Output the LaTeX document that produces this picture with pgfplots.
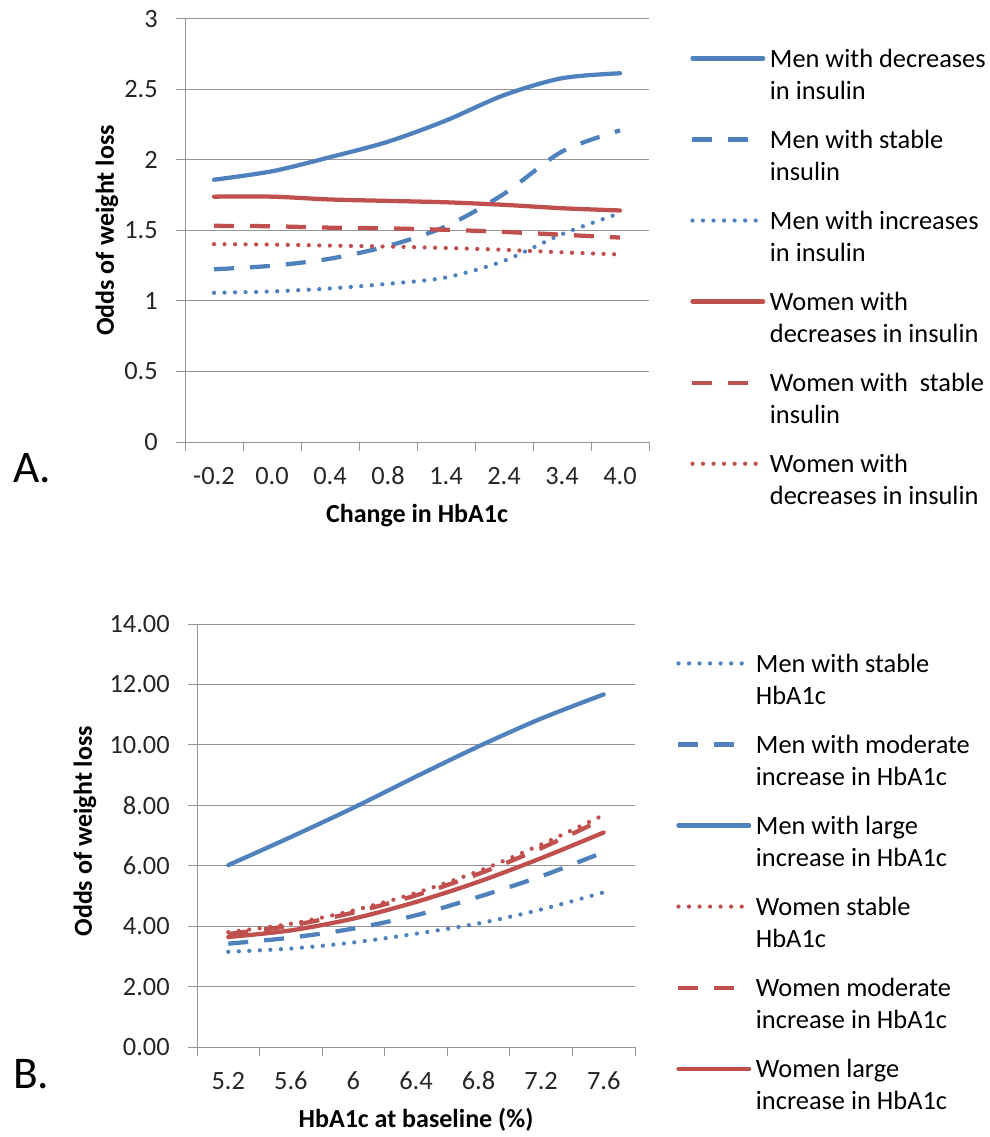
\documentclass[border=0pt]{standalone}
\usepackage{fontspec}
\setmainfont{Carlito}
\usepackage{pgfplots}
\pgfplotsset{compat=1.18}
\definecolor{xblue}{HTML}{4F81BD}
\definecolor{xred}{HTML}{C0504D}
\definecolor{gridgray}{HTML}{969696}
\definecolor{txt}{HTML}{262626}
\newcommand\two[2]{\begin{tabular}[t]{@{}l@{}}#1\\#2\end{tabular}}
\pgfplotsset{
 excel/.style={
  scale only axis,
  anchor=north west,
  axis x line*=bottom, axis y line*=left,
  axis line style={-, draw=gridgray, line width=0.75pt},
  ymajorgrids, grid style={draw=gridgray, line width=0.75pt},
  tick align=outside, major tick length=6.75pt,
  tick style={draw=gridgray, line width=0.75pt},
  xtick style={draw=none},
  extra x tick style={grid=none, xtick style={draw=gridgray, line width=0.75pt}},
  extra x tick labels={},
  tick label style={font=\fontsize{19.8}{24}\selectfont, text=txt},
  xticklabel style={anchor=base, yshift=-25pt},
  yticklabel style={inner sep=0pt, xshift=-13.5pt},
  /pgf/number format/assume math mode=true,
  label style={font=\bfseries\fontsize{19.5}{24}\selectfont, text=black},
  xlabel style={at={(axis description cs:0.5,0)}, anchor=base, yshift=-60pt},
  legend style={at={(axis description cs:1,1)}, anchor=north west, xshift=31pt, yshift=-19.5pt,
    draw=none, fill=none, inner sep=0pt, outer sep=0pt, row sep=42.5pt, column sep=3.5pt,
    font=\fontsize{19.8}{24}\selectfont, text=black, nodes={inner sep=0pt}},
  legend cell align=left,
  legend style={cells={anchor=base west}},
  legend image code/.code={\draw[##1] (0pt,6.75pt) -- (53pt,6.75pt);},
 },
 sol/.style={line width=3.2pt, line cap=round, line join=round, smooth},
 dsh/.style={line width=3.2pt, line cap=butt, line join=round, dash pattern=on 15pt off 12pt, smooth},
 dot/.style={line width=3.2pt, line cap=round, line join=round, dash pattern=on 0pt off 7.9pt, smooth},
}
\begin{document}
\begin{tikzpicture}
\path[use as bounding box] (0,0) rectangle (741.75pt,-852.75pt);
% ---------------- Panel A ----------------
\begin{axis}[excel,
  at={(138.75pt,-14.25pt)}, width=348pt, height=317.25pt,
  xmin=-0.5, xmax=7.5, ymin=0, ymax=3,
  xtick={0,...,7}, xticklabels={-0.2,0.0,0.4,0.8,1.4,2.4,3.4,4.0},
  extra x ticks={-0.5,0.5,1.5,2.5,3.5,4.5,5.5,6.5,7.5},
  ytick={0,0.5,1,1.5,2,2.5,3},
  xlabel={Change in HbA1c}, ylabel={Odds of weight loss},
  ylabel style={at={(axis description cs:-0.168,0.5)}, anchor=center},
]
\addplot[sol, xblue] coordinates {(0,1.86) (1,1.92) (2,2.02) (3,2.13) (4,2.28) (5,2.46) (6,2.58) (7,2.615)};
\addlegendentry{\two{Men with decreases}{in insulin}}
\addplot[dsh, xblue] coordinates {(0,1.225) (1,1.25) (2,1.30) (3,1.39) (4,1.53) (5,1.76) (6,2.06) (7,2.21)};
\addlegendentry{\two{Men with stable}{insulin}}
\addplot[dot, xblue] coordinates {(0,1.058) (1,1.068) (2,1.089) (3,1.122) (4,1.167) (5,1.285) (6,1.474) (7,1.623)};
\addlegendentry{\two{Men with increases}{in insulin}}
\addplot[sol, xred] coordinates {(0,1.74) (1,1.74) (2,1.72) (3,1.71) (4,1.70) (5,1.682) (6,1.658) (7,1.642)};
\addlegendentry{\two{Women with}{decreases in insulin}}
\addplot[dsh, xred] coordinates {(0,1.533) (1,1.53) (2,1.52) (3,1.515) (4,1.505) (5,1.49) (6,1.47) (7,1.45)};
\addlegendentry{\two{Women with\ \ stable}{insulin}}
\addplot[dot, xred] coordinates {(0,1.403) (1,1.40) (2,1.393) (3,1.386) (4,1.376) (5,1.363) (6,1.345) (7,1.33)};
\addlegendentry{\two{Women with}{decreases in insulin}}
\end{axis}
% ---------------- Panel B ----------------
\begin{axis}[excel,
  at={(147.75pt,-468pt)}, width=328.5pt, height=317.25pt,
  xmin=-0.5, xmax=6.5, ymin=0, ymax=14,
  xtick={0,...,6}, xticklabels={5.2,5.6,6,6.4,6.8,7.2,7.6},
  extra x ticks={-0.5,0.5,1.5,2.5,3.5,4.5,5.5,6.5},
  ytick={0,2,...,14},
  yticklabel style={/pgf/number format/.cd, fixed, fixed zerofill, precision=2},
  xlabel={HbA1c at baseline (\%)}, ylabel={Odds of weight loss},
  ylabel style={at={(axis description cs:-0.256,0.51)}, anchor=center},
]
\addplot[dot, xblue] coordinates {(0,3.15) (1,3.26) (2,3.46) (3,3.75) (4,4.09) (5,4.55) (6,5.12)};
\addlegendentry{\two{Men with stable}{HbA1c}}
\addplot[dsh, xblue] coordinates {(0,3.42) (1,3.62) (2,3.92) (3,4.36) (4,4.97) (5,5.65) (6,6.45)};
\addlegendentry{\two{Men with moderate}{increase in HbA1c}}
\addplot[sol, xblue] coordinates {(0,6.02) (1,6.95) (2,7.92) (3,8.95) (4,9.95) (5,10.87) (6,11.67)};
\addlegendentry{\two{Men with large}{increase in HbA1c}}
\addplot[dot, xred] coordinates {(0,3.80) (1,4.08) (2,4.52) (3,5.10) (4,5.82) (5,6.70) (6,7.68)};
\addlegendentry{\two{Women stable}{HbA1c}}
\addplot[dsh, xred] coordinates {(0,3.74) (1,4.02) (2,4.45) (3,5.02) (4,5.73) (5,6.58) (6,7.55)};
\addlegendentry{\two{Women moderate}{increase in HbA1c}}
\addplot[sol, xred] coordinates {(0,3.64) (1,3.86) (2,4.25) (3,4.80) (4,5.47) (5,6.25) (6,7.10)};
\addlegendentry{\two{Women large}{increase in HbA1c}}
\end{axis}
\node[anchor=base west, inner sep=0pt, font=\fontsize{34}{40}\selectfont] at (9.75pt,-361.5pt) {A.};
\node[anchor=base west, inner sep=0pt, font=\fontsize{34}{40}\selectfont] at (9.75pt,-816pt) {B.};
\end{tikzpicture}
\end{document}
